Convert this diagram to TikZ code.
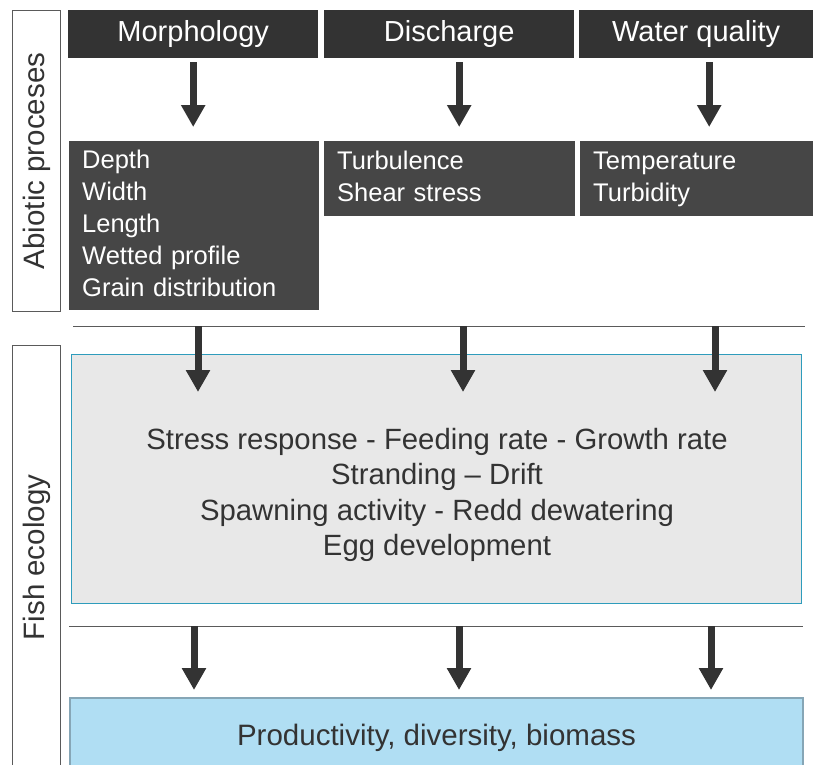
\documentclass[tikz,border=0pt]{standalone}
\usepackage{fontspec}
\setmainfont{Liberation Sans}
\usetikzlibrary{arrows.meta}
\definecolor{hdrfill}{HTML}{333333}
\definecolor{subfill}{HTML}{464646}
\definecolor{arrowcol}{HTML}{333333}
\definecolor{grayfill}{HTML}{E8E8E8}
\definecolor{tealline}{HTML}{2E9CBC}
\definecolor{bluefill}{HTML}{B0DEF3}
\definecolor{blueline}{HTML}{86A6B6}
\definecolor{labelline}{HTML}{5A5A5A}
\definecolor{textdark}{HTML}{333333}
\begin{document}
\begin{tikzpicture}[x=1pt,y=-1pt,
  hdrbox/.style={draw=none, fill=hdrfill, text=white, anchor=north west,
    minimum height=48pt, inner sep=0pt, font=\fontsize{29}{34}\selectfont},
  subbox/.style={draw=none, fill=subfill, text=white, anchor=north west,
    inner xsep=13pt, inner ysep=0pt, align=left,
    font=\fontsize{25.5}{32}\selectfont},
  sidebox/.style={draw=labelline, line width=1pt, fill=white, anchor=north west,
    minimum width=48pt, inner sep=0pt},
  sidetext/.style={rotate=90, text=textdark, font=\fontsize{29.5}{34}\selectfont},
  bigarrow/.style={draw=arrowcol, line width=7pt,
    -{Triangle[width=23pt,length=22pt]}},
  sepline/.style={draw=labelline, line width=1pt},
  maintext/.style={text=textdark, align=center, font=\fontsize{29.3}{35.5}\selectfont}
]
\useasboundingbox (0,0) rectangle (813,764);

% side labels
\node[sidebox, minimum height=301pt] (abbox) at (12,10) {};
\node[sidetext] (abtext) at (abbox.center) {Abiotic proceses};
\node[sidebox, minimum height=424pt] (fishbox) at (12,345) {};
\node[sidetext] (fishtext) at (fishbox.center) {Fish ecology};

% header boxes
\node[hdrbox, minimum width=250pt] (morph) at (68,10) {Morphology};
\node[hdrbox, minimum width=250pt] (disch) at (324,10) {Discharge};
\node[hdrbox, minimum width=234pt] (water) at (579,10) {Water quality};

% sub boxes
\node[subbox, text width=224pt, minimum height=169pt] (morphsub) at (69,141)
  {\strut Depth\\\strut Width\\\strut Length\\\strut Wetted profile\\\strut Grain distribution};
\node[subbox, text width=225pt, minimum height=75pt] (dischsub) at (324,141)
  {\strut Turbulence\\\strut Shear stress};
\node[subbox, text width=207pt, minimum height=75pt] (watersub) at (580,141)
  {\strut Temperature\\\strut Turbidity};

% top arrows
\draw[bigarrow] ([yshift=-4pt]morph.south) -- ([yshift=14pt]morphsub.north -| morph.south);
\draw[bigarrow] ([xshift=10pt,yshift=-4pt]disch.south) -- ([xshift=10pt,yshift=14pt]disch.south |- dischsub.north);
\draw[bigarrow] ([xshift=13pt,yshift=-4pt]water.south) -- ([xshift=13pt,yshift=14pt]water.south |- watersub.north);

% separator line 1
\coordinate (l1a) at (73,326);
\coordinate (l1b) at (805,326);
\draw[sepline] (l1a) -- (l1b);

% gray effects box
\node[draw=tealline, line width=1.2pt, fill=grayfill, anchor=north west,
  minimum width=730pt, minimum height=249pt, inner sep=0pt] (effbox) at (71,354) {};
\node[maintext] (efftext) at (437,495)
  {Stress response - Feeding rate - Growth rate\\Stranding -- Drift\\Spawning activity - Redd dewatering\\Egg development};

% middle arrows
\coordinate (m1) at (198,326);
\coordinate (m2) at (463,326);
\coordinate (m3) at (715,326);
\draw[bigarrow] (m1) -- (m1 |- 0,392);
\draw[bigarrow] (m2) -- (m2 |- 0,392);
\draw[bigarrow] (m3) -- (m3 |- 0,392);

% separator line 2
\coordinate (l2a) at (69,626);
\coordinate (l2b) at (803,626);
\draw[sepline] (l2a) -- (l2b);

% blue result box
\node[draw=blueline, line width=2pt, fill=bluefill, anchor=north west,
  minimum width=733pt, minimum height=80pt, inner sep=0pt,
  text=textdark, font=\fontsize{29.5}{34}\selectfont] (result) at (69,697)
  {Productivity, diversity, biomass};

% bottom arrows
\coordinate (b1) at (194,626);
\coordinate (b2) at (459,626);
\coordinate (b3) at (711,626);
\draw[bigarrow] (b1) -- ([yshift=7pt]b1 |- result.north);
\draw[bigarrow] (b2) -- ([yshift=7pt]b2 |- result.north);
\draw[bigarrow] (b3) -- ([yshift=7pt]b3 |- result.north);
\end{tikzpicture}
\end{document}
